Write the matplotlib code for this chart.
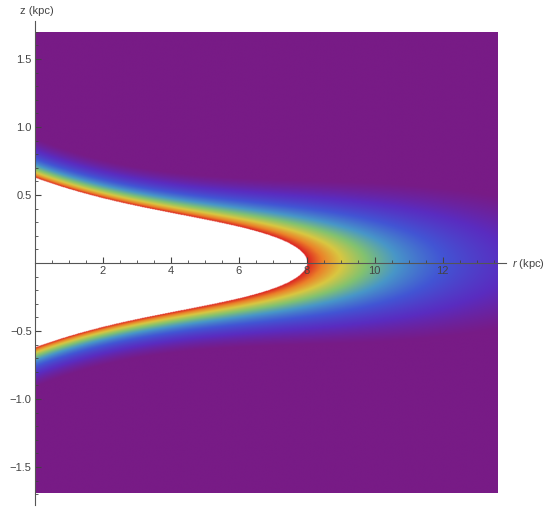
import numpy as np
import matplotlib
matplotlib.use('Agg')
import matplotlib.pyplot as plt
from matplotlib.colors import LinearSegmentedColormap

plt.rcParams['font.family'] = ['Liberation Sans', 'DejaVu Sans']
plt.rcParams['mathtext.fontset'] = 'custom'
plt.rcParams['mathtext.it'] = 'Liberation Sans:italic'

# plotted region (kpc)
r_max = 13.6
z_max = 1.695

# field
r_tip = 8.0       # white region ends here on the axis
z_edge0 = 0.605   # white edge height at r = 0
r_scale = 3.5     # radial e-folding of the colour
flare_r = [0, 2, 4, 6, 8, 10, 12, 14]
flare_s = [1.0, 0.97, 0.87, 0.80, 0.92, 1.05, 1.15, 1.2]

# colour scale (purple -> red), rainbow style
cmap_pos = [0.0, 0.07, 0.18, 0.32, 0.47, 0.61, 0.75, 0.88, 1.0]
cmap_col = ['#781b86', '#781b86', '#5a2cc0', '#4255d4', '#4896c8', '#82c270',
            '#d9c741', '#eb8029', '#db2122']

x_ticks = [2, 4, 6, 8, 10, 12]
y_ticks = [-1.5, -1.0, -0.5, 0.5, 1.0, 1.5]
y_labels = ['\u22121.5', '\u22121.0', '\u22120.5', '0.5', '1.0', '1.5']

# build the field
r = np.linspace(0, r_max, 900)
z = np.linspace(-z_max, z_max, 900)
R, Z = np.meshgrid(r, z)
coef = np.polyfit(flare_r, flare_s, 3)
S = np.polyval(coef, R)
lnt = -(R - r_tip) / r_scale - (r_tip / r_scale) * (Z / (z_edge0 * S)) ** 2
field = np.exp(lnt)

cmap = LinearSegmentedColormap.from_list('rainbow_m', list(zip(cmap_pos, cmap_col)))
cmap.set_over('white')

fig = plt.figure(figsize=(5.5, 5.11), dpi=100)
ax = fig.add_axes([34.5 / 550, 6 / 511, 471 / 550, 484 / 511])
ax.imshow(field, extent=[0, r_max, -z_max, z_max], origin='lower', aspect='auto',
          cmap=cmap, vmin=0, vmax=1, interpolation='bilinear', zorder=0)
ax.set_xlim(0, 13.85)
ax.set_ylim(-1.78, 1.78)

for s in ['top', 'right']:
    ax.spines[s].set_visible(False)
ax.spines['left'].set_position(('data', 0))
ax.spines['bottom'].set_position(('data', 0))
for s in ['left', 'bottom']:
    ax.spines[s].set_color('#555555')
    ax.spines[s].set_linewidth(0.8)
    ax.spines[s].set_zorder(3)

ax.set_xticks(x_ticks)
ax.set_xticklabels([str(v) for v in x_ticks])
ax.set_yticks(y_ticks)
ax.set_yticklabels(y_labels)
ax.set_xticks(np.arange(0.5, 13.6, 0.5), minor=True)
ax.set_yticks(np.arange(-1.7, 1.71, 0.1), minor=True)
ax.tick_params(which='major', direction='in', length=4, width=0.8, color='#444444',
               labelsize=8, labelcolor='#444444', pad=2)
ax.tick_params(which='minor', direction='in', length=2.2, width=0.6, color='#444444')

fig.text(20 / 550, 1 - 11 / 511, 'z (kpc)', fontsize=8, color='#444444',
         ha='left', va='center')
fig.text(512 / 550, 1 - 264 / 511, '$r$ (kpc)', fontsize=8, color='#444444',
         ha='left', va='center')

fig.savefig('out.png', dpi=100)
